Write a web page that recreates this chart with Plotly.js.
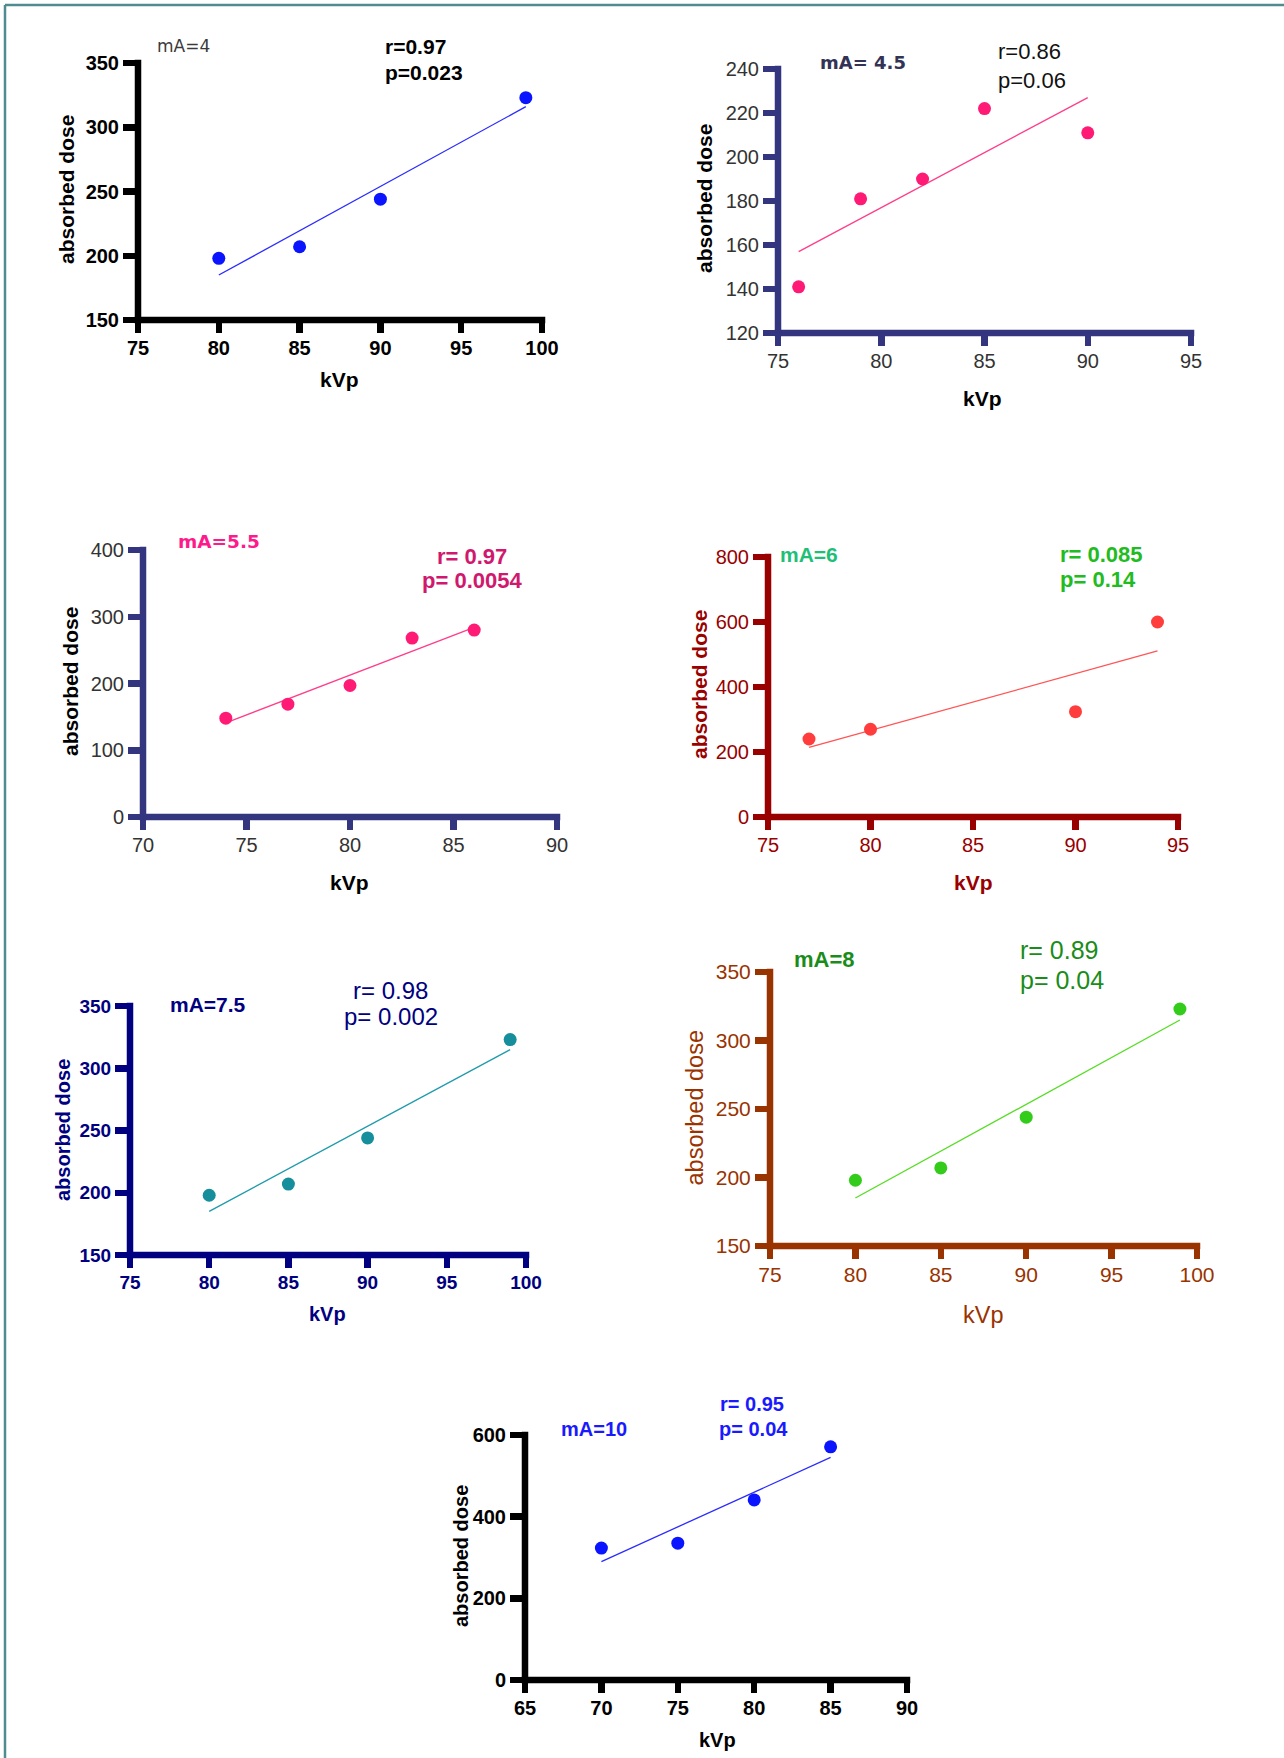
<!DOCTYPE html>
<html>
<head>
<meta charset="utf-8">
<script src="https://cdn.plot.ly/plotly-3.0.1.min.js"></script>
<style>
  html, body { margin: 0; padding: 0; background: #ffffff; }
  #chart { width: 1284px; height: 1758px; }
</style>
</head>
<body>
<div id="chart"></div>
<script>
// ---------------- DATA ----------------
const p1Kvp = [80, 85, 90, 99];
const p1Dose = [198, 207, 244, 323];
const p1FitKvp = [80, 99];
const p1FitDose = [185, 316];

const p2Kvp = [76, 79, 82, 85, 90];
const p2Dose = [141, 181, 190, 222, 211];
const p2FitKvp = [76, 90];
const p2FitDose = [157, 227];

const p3Kvp = [74, 77, 80, 83, 86];
const p3Dose = [148, 169, 197, 268, 280];
const p3FitKvp = [74, 86];
const p3FitDose = [141, 284];

const p4Kvp = [77, 80, 90, 94];
const p4Dose = [240, 270, 324, 600];
const p4FitKvp = [77, 94];
const p4FitDose = [214, 511];

const p5Kvp = [80, 85, 90, 99];
const p5Dose = [198, 207, 244, 323];
const p5FitKvp = [80, 99];
const p5FitDose = [185, 315];

const p6Kvp = [80, 85, 90, 99];
const p6Dose = [198, 207, 244, 323];
const p6FitKvp = [80, 99];
const p6FitDose = [185, 315];

const p7Kvp = [70, 75, 80, 85];
const p7Dose = [323, 335, 441, 571];
const p7FitKvp = [70, 85];
const p7FitDose = [290, 545];

// tick labels
const p1XTicks = [75, 80, 85, 90, 95, 100];
const p1YTicks = [150, 200, 250, 300, 350];
const p2XTicks = [75, 80, 85, 90, 95];
const p2YTicks = [120, 140, 160, 180, 200, 220, 240];
const p3XTicks = [70, 75, 80, 85, 90];
const p3YTicks = [0, 100, 200, 300, 400];
const p4XTicks = [75, 80, 85, 90, 95];
const p4YTicks = [0, 200, 400, 600, 800];
const p5XTicks = [75, 80, 85, 90, 95, 100];
const p5YTicks = [150, 200, 250, 300, 350];
const p6XTicks = [75, 80, 85, 90, 95, 100];
const p6YTicks = [150, 200, 250, 300, 350];
const p7XTicks = [65, 70, 75, 80, 85, 90];
const p7YTicks = [0, 200, 400, 600];

// texts
const maLabels = ["mA=4", "mA= 4.5", "mA=5.5", "mA=6", "mA=7.5", "mA=8", "mA=10"];
const rLabels = ["r=0.97", "r=0.86", "r= 0.97", "r= 0.085", "r= 0.98", "r= 0.89", "r= 0.95"];
const pLabels = ["p=0.023", "p=0.06", "p= 0.0054", "p= 0.14", "p= 0.002", "p= 0.04", "p= 0.04"];
const xTitleText = "kVp";
const yTitleText = "absorbed dose";

// ---------------- LAYOUT / STYLE (positions in page pixels) ----------------
const W = 1284, H = 1758;
const SANS = "Liberation Sans, Arial, sans-serif";
const NARROW = "Liberation Sans Narrow, Arial Narrow, Liberation Sans, Arial, sans-serif";
const DEJA = "DejaVu Sans, Verdana, sans-serif";
const LW = 6.5;

const panels = [
  { kvp: p1Kvp, dose: p1Dose, fitK: p1FitKvp, fitD: p1FitDose, xt: p1XTicks, yt: p1YTicks,
    g: { xLo: 138, xHi: 542, yLo: 320, yHi: 63 },
    axis: "#000000", tick: { family: SANS, size: 20, color: "#000000", weight: "bold" },
    marker: "#0a14ff", line: "#2b2bff",
    ma: { x: 155, y: 46, font: { family: DEJA, size: 17, color: "#3a3a3a" } },
    r: { x: 383, y: 46.5, font: { family: SANS, size: 21, color: "#000000", weight: "bold" } },
    p: { x: 383, y: 72.5 },
    xt_: { x: 340, y: 379.5, font: { family: SANS, size: 21, color: "#000000", weight: "bold" } },
    yt_: { x: 66, y: 190 } },
  { kvp: p2Kvp, dose: p2Dose, fitK: p2FitKvp, fitD: p2FitDose, xt: p2XTicks, yt: p2YTicks,
    g: { xLo: 778, xHi: 1191, yLo: 333, yHi: 69 },
    axis: "#33357f", tick: { family: SANS, size: 20, color: "#333333", weight: "normal" },
    marker: "#ff1a75", line: "#ff3d8b",
    ma: { x: 818, y: 62.5, font: { family: DEJA, size: 18, color: "#333355", weight: "bold" } },
    r: { x: 996, y: 51.5, font: { family: SANS, size: 22, color: "#111111" } },
    p: { x: 996, y: 80 },
    xt_: { x: 982, y: 398.5, font: { family: SANS, size: 21, color: "#000000", weight: "bold" } },
    yt_: { x: 705, y: 199 } },
  { kvp: p3Kvp, dose: p3Dose, fitK: p3FitKvp, fitD: p3FitDose, xt: p3XTicks, yt: p3YTicks,
    g: { xLo: 143, xHi: 557, yLo: 817, yHi: 550 },
    axis: "#33357f", tick: { family: SANS, size: 20, color: "#333333", weight: "normal" },
    marker: "#ff1a75", line: "#ff3d8b",
    ma: { x: 176, y: 541, font: { family: DEJA, size: 18.5, color: "#ff1a8c", weight: "bold" } },
    r: { x: 435, y: 556, font: { family: SANS, size: 22, color: "#d0186e", weight: "bold" } },
    p: { x: 420, y: 580 },
    xt_: { x: 350, y: 882.5, font: { family: SANS, size: 21, color: "#000000", weight: "bold" } },
    yt_: { x: 70, y: 682 } },
  { kvp: p4Kvp, dose: p4Dose, fitK: p4FitKvp, fitD: p4FitDose, xt: p4XTicks, yt: p4YTicks,
    g: { xLo: 768, xHi: 1178, yLo: 817, yHi: 557 },
    axis: "#990000", tick: { family: NARROW, size: 20, color: "#990000", weight: "normal" },
    marker: "#ff3d3d", line: "#ff5555",
    ma: { x: 778, y: 554.5, font: { family: SANS, size: 21, color: "#1fbf78", weight: "bold" } },
    r: { x: 1058, y: 554.5, font: { family: SANS, size: 22, color: "#22bb22", weight: "bold" } },
    p: { x: 1058, y: 579 },
    xt_: { x: 973.5, y: 882, font: { family: SANS, size: 21, color: "#990000", weight: "bold" } },
    yt_: { x: 699, y: 685 } },
  { kvp: p5Kvp, dose: p5Dose, fitK: p5FitKvp, fitD: p5FitDose, xt: p5XTicks, yt: p5YTicks,
    g: { xLo: 130, xHi: 526, yLo: 1255, yHi: 1006 },
    axis: "#000080", tick: { family: SANS, size: 19, color: "#000080", weight: "bold" },
    marker: "#168e9c", line: "#1f9aab",
    ma: { x: 168, y: 1004, font: { family: SANS, size: 21, color: "#000080", weight: "bold" } },
    r: { x: 351, y: 990, font: { family: SANS, size: 24, color: "#000080" } },
    p: { x: 342, y: 1017 },
    xt_: { x: 328, y: 1314, font: { family: SANS, size: 20, color: "#000080", weight: "bold" } },
    yt_: { x: 63, y: 1130 } },
  { kvp: p6Kvp, dose: p6Dose, fitK: p6FitKvp, fitD: p6FitDose, xt: p6XTicks, yt: p6YTicks,
    g: { xLo: 770, xHi: 1197, yLo: 1246, yHi: 972 },
    axis: "#993300", tick: { family: SANS, size: 21, color: "#993300", weight: "normal" },
    marker: "#33cc1a", line: "#55dd22",
    ma: { x: 792, y: 959, font: { family: SANS, size: 22, color: "#1a8c1a", weight: "bold" } },
    r: { x: 1018, y: 950, font: { family: SANS, size: 25, color: "#1a8c1a" } },
    p: { x: 1018, y: 980 },
    xt_: { x: 983, y: 1314.5, font: { family: SANS, size: 23.5, color: "#993300" } },
    yt_: { x: 694, y: 1108.5 } },
  { kvp: p7Kvp, dose: p7Dose, fitK: p7FitKvp, fitD: p7FitDose, xt: p7XTicks, yt: p7YTicks,
    g: { xLo: 525, xHi: 907, yLo: 1680, yHi: 1435 },
    axis: "#000000", tick: { family: SANS, size: 20, color: "#000000", weight: "bold" },
    marker: "#0a14ff", line: "#2b2bff",
    ma: { x: 559, y: 1429, font: { family: SANS, size: 20, color: "#1a1aff", weight: "bold" } },
    r: { x: 718, y: 1404, font: { family: SANS, size: 20, color: "#1a1aff", weight: "bold" } },
    p: { x: 717, y: 1429 },
    xt_: { x: 717, y: 1739.5, font: { family: SANS, size: 20, color: "#000000", weight: "bold" } },
    yt_: { x: 461, y: 1556 } }
];

const fx = px => px / W;
const fy = py => 1 - py / H;

const data = [];
const layout = {
  width: W, height: H,
  margin: { l: 0, r: 0, t: 0, b: 0, pad: 0 },
  paper_bgcolor: "#ffffff", plot_bgcolor: "rgba(0,0,0,0)",
  showlegend: false,
  font: { family: SANS },
  annotations: [],
  shapes: [
    { type: "line", xref: "paper", yref: "paper", x0: fx(5), x1: fx(1284), y0: fy(5), y1: fy(5),
      line: { color: "#4f8c8f", width: 2.5 } },
    { type: "line", xref: "paper", yref: "paper", x0: fx(5), x1: fx(5), y0: fy(5), y1: fy(1758),
      line: { color: "#4f8c8f", width: 2.5 } }
  ]
};

function addText(text, x, y, font, opts) {
  layout.annotations.push(Object.assign({
    text: text, xref: "paper", yref: "paper", x: fx(x), y: fy(y),
    xanchor: "left", yanchor: "middle", showarrow: false, font: font
  }, opts || {}));
}

panels.forEach((P, i) => {
  const n = i + 1;
  const xa = "x" + n, ya = "y" + n;
  const xKey = n === 1 ? "xaxis" : "xaxis" + n;
  const yKey = n === 1 ? "yaxis" : "yaxis" + n;
  const tf = { family: P.tick.family, size: P.tick.size, color: P.tick.color, weight: P.tick.weight };
  const common = {
    showline: false,
    ticks: "outside", tickwidth: LW, tickcolor: P.axis,
    showgrid: false, zeroline: false, tickmode: "array", tickfont: tf, fixedrange: true
  };
  layout[xKey] = Object.assign({}, common, {
    domain: [fx(P.g.xLo), fx(P.g.xHi)],
    range: [P.xt[0], P.xt[P.xt.length - 1]],
    tickvals: P.xt, ticktext: P.xt.map(String),
    ticklen: 12, ticklabelstandoff: -2,
    anchor: ya
  });
  layout[yKey] = Object.assign({}, common, {
    domain: [fy(P.g.yLo), fy(P.g.yHi)],
    range: [P.yt[0], P.yt[P.yt.length - 1]],
    tickvals: P.yt, ticktext: P.yt.map(String),
    ticklen: 14, ticklabelstandoff: 0,
    anchor: xa
  });

  // axis lines (drawn as thick frame strokes along the plot edges)
  layout.shapes.push({
    type: "line", xref: "paper", yref: "paper", layer: "below",
    x0: fx(P.g.xLo - LW / 2), x1: fx(P.g.xHi + LW / 2), y0: fy(P.g.yLo), y1: fy(P.g.yLo),
    line: { color: P.axis, width: LW }
  });
  layout.shapes.push({
    type: "line", xref: "paper", yref: "paper", layer: "below",
    x0: fx(P.g.xLo), x1: fx(P.g.xLo), y0: fy(P.g.yLo + LW / 2), y1: fy(P.g.yHi - LW / 2),
    line: { color: P.axis, width: LW }
  });

  data.push({
    type: "scatter", mode: "lines", x: P.fitK, y: P.fitD, xaxis: xa, yaxis: ya,
    line: { color: P.line, width: 1.3 }, hoverinfo: "skip", cliponaxis: false
  });
  data.push({
    type: "scatter", mode: "markers", x: P.kvp, y: P.dose, xaxis: xa, yaxis: ya,
    marker: { color: P.marker, size: 13, line: { width: 0 } }, cliponaxis: false
  });

  addText(maLabels[i], P.ma.x, P.ma.y, P.ma.font);
  addText(rLabels[i], P.r.x, P.r.y, P.r.font);
  addText(pLabels[i], P.p.x, P.p.y, P.r.font);
  addText(xTitleText, P.xt_.x, P.xt_.y, P.xt_.font, { xanchor: "center" });
  addText(yTitleText, P.yt_.x, P.yt_.y, P.xt_.font, { xanchor: "center", textangle: -90 });
});

Plotly.newPlot("chart", data, layout, { displayModeBar: false, staticPlot: true });
</script>
</body>
</html>
